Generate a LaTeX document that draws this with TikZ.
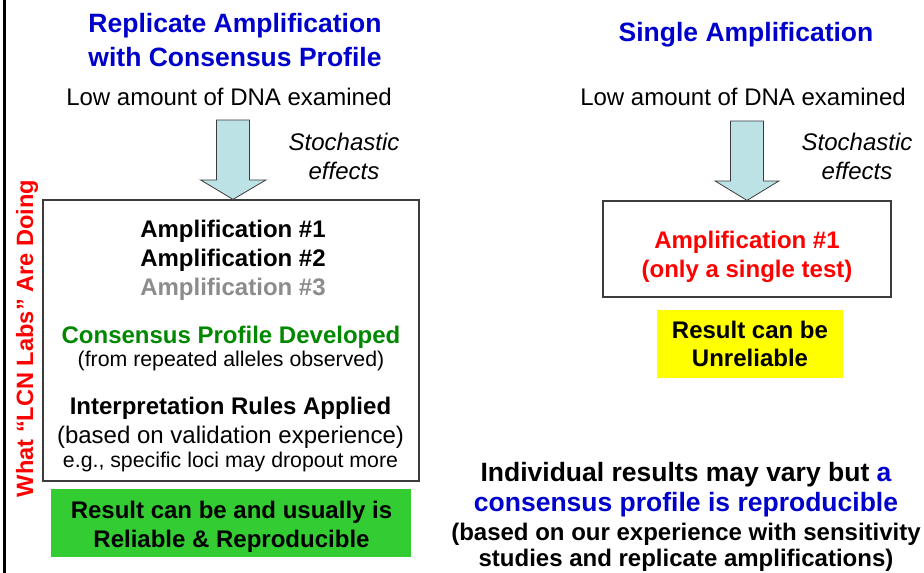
\documentclass[tikz,border=0pt]{standalone}
\usepackage{fontspec}
\setmainfont{Liberation Sans}
\usetikzlibrary{calc}
\definecolor{titleblue}{RGB}{0,0,204}
\definecolor{lcnred}{RGB}{255,0,0}
\definecolor{consgreen}{RGB}{0,136,0}
\definecolor{ampgray}{RGB}{140,140,140}
\definecolor{boxgreen}{RGB}{51,204,51}
\definecolor{boxyellow}{RGB}{255,255,0}
\definecolor{arrowfill}{RGB}{188,226,229}
\definecolor{framegray}{RGB}{60,60,60}
\begin{document}
\begin{tikzpicture}[x=1pt,y=-1pt,
  txt/.style={anchor=base, inner sep=0pt, font=\fontsize{24}{29}\selectfont},
  boldtxt/.style={txt, font=\fontsize{24}{29}\selectfont\bfseries},
  smalltxt/.style={txt, font=\fontsize{21.3}{26}\selectfont},
  titletxt/.style={txt, font=\fontsize{26.5}{32}\selectfont\bfseries, text=titleblue},
  bigbold/.style={txt, font=\fontsize{26.5}{32}\selectfont\bfseries},
  stochtxt/.style={txt, font=\fontsize{24}{29}\selectfont\itshape},
  framebox/.style={draw=framegray, line width=1.2pt, inner sep=0pt},
  fillbox/.style={inner sep=0pt},
  blockarrow/.style={draw=framegray, line width=0.8pt, fill=arrowfill, line join=miter}
]
\useasboundingbox (0,0) rectangle (924,573);

% left border line
\coordinate (lineTop) at (4.5,0);
\coordinate (lineBot) at (4.5,573);
\draw[line width=2.5pt] (lineTop) -- (lineBot);

% rotated label
\node[txt, font=\fontsize{23.6}{29}\selectfont\bfseries, text=lcnred, rotate=90] (lcn) at (33,338.5) {What “LCN Labs” Are Doing};

% ---------- left column ----------
\node[titletxt] (titleL1) at (235,32) {Replicate Amplification};
\node[titletxt] (titleL2) at (235,66) {with Consensus Profile};
\node[txt] (lowL) at (229,105) {Low amount of DNA examined};
\node[stochtxt] (stochL1) at (344,150) {Stochastic};
\node[stochtxt] (stochL2) at (344,179) {effects};

\node[framebox, minimum width=376pt, minimum height=281pt] (boxL) at (231,340.5) {};
\node[boldtxt] (ampL1) at (233,237) {Amplification \#1};
\node[boldtxt] (ampL2) at (233,266) {Amplification \#2};
\node[boldtxt, text=ampgray] (ampL3) at (233,295) {Amplification \#3};
\node[boldtxt, text=consgreen] (cons) at (231,343) {Consensus Profile Developed};
\node[smalltxt] (consSub) at (231,366) {(from repeated alleles observed)};
\node[boldtxt] (interp) at (230.5,414) {Interpretation Rules Applied};
\node[txt] (interpSub) at (230.5,443) {(based on validation experience)};
\node[smalltxt] (interpEg) at (230.5,467) {e.g., specific loci may dropout more};

\node[fillbox, fill=boxgreen, minimum width=360pt, minimum height=68pt] (greenBox) at (231,523) {};
\node[boldtxt] (resL1) at (231.5,518) {Result can be and usually is};
\node[boldtxt] (resL2) at (231.5,547) {Reliable \& Reproducible};

\coordinate (tipL) at ($(boxL.north)+(2,0)$);
\draw[blockarrow] (tipL) -- ++(-32.5,-19.5) -- ++(16,0) -- ++(0,-60) -- ++(33,0) -- ++(0,60) -- ++(16.5,0) -- cycle;

% ---------- right column ----------
\node[titletxt] (titleR) at (746,41) {Single Amplification};
\node[txt] (lowR) at (743,105) {Low amount of DNA examined};
\node[stochtxt] (stochR1) at (857,150) {Stochastic};
\node[stochtxt] (stochR2) at (857,179) {effects};

\node[framebox, minimum width=288pt, minimum height=96pt] (boxR) at (747,249) {};
\node[boldtxt, text=lcnred] (ampR1) at (747,248) {Amplification \#1};
\node[boldtxt, text=lcnred] (ampR2) at (747,277) {(only a single test)};

\node[fillbox, fill=boxyellow, minimum width=186pt, minimum height=68pt] (yellowBox) at (750,344) {};
\node[boldtxt] (resR1) at (750,338) {Result can be};
\node[boldtxt] (resR2) at (750,366) {Unreliable};

\coordinate (tipR) at (boxR.north);
\draw[blockarrow] (tipR) -- ++(-32,-19.5) -- ++(15.5,0) -- ++(0,-60) -- ++(33,0) -- ++(0,60) -- ++(15.5,0) -- cycle;

% ---------- bottom right statement ----------
\node[bigbold] (ind1) at (686,481) {Individual results may vary but {\color{titleblue}a}};
\node[bigbold, text=titleblue] (ind2) at (686,511) {consensus profile is reproducible};
\node[boldtxt] (ind3) at (686,540) {(based on our experience with sensitivity};
\node[boldtxt] (ind4) at (686,566.5) {studies and replicate amplifications)};
\end{tikzpicture}
\end{document}
